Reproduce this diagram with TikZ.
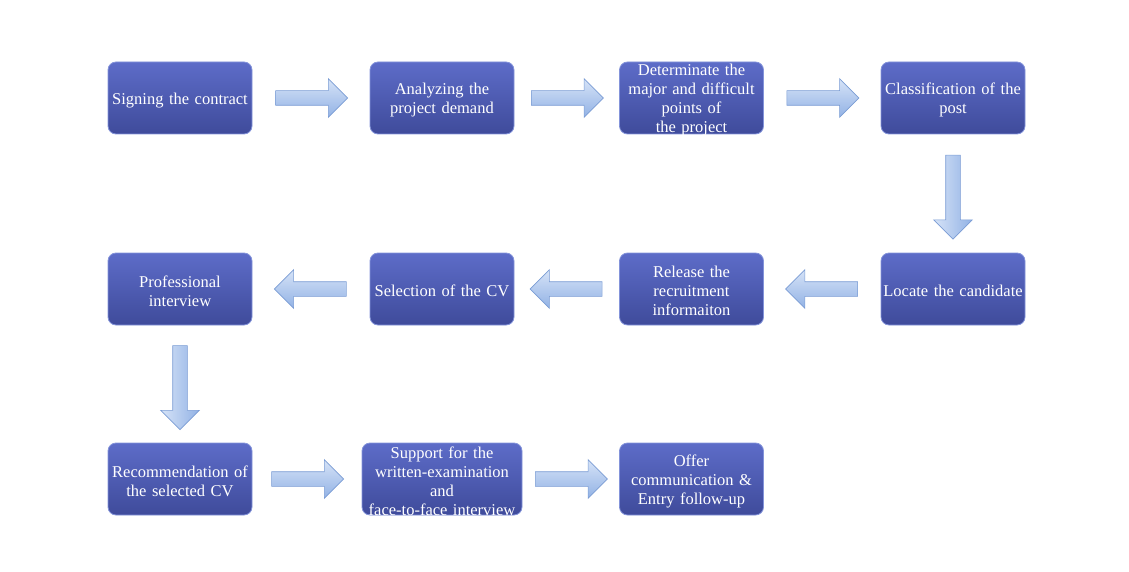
\documentclass[tikz,border=0pt]{standalone}
\usepackage{fontspec}
\setmainfont{Liberation Serif}
\usetikzlibrary{calc,shapes.arrows}
\definecolor{boxtop}{HTML}{5D6CC8}
\definecolor{boxbot}{HTML}{3F4B9B}
\definecolor{boxrule}{HTML}{8494DA}
\definecolor{arrtop}{HTML}{D6E3F7}
\definecolor{arrbot}{HTML}{92B2E5}
\definecolor{arrrule}{HTML}{7A9CD4}
\tikzset{
  stage/.style={draw=boxrule,line width=0.8pt,rounded corners=8pt,
    top color=boxtop,bottom color=boxbot,text=white,inner xsep=0pt,inner ysep=-3pt,
    minimum width=144pt,minimum height=72pt,text width=144pt,align=center,
    font=\fontsize{16.5}{19}\selectfont,execute at begin node={\rule{0pt}{16pt}}},
  stagew/.style={stage,minimum width=160pt,text width=160pt},
  blk/.style={single arrow,draw=arrrule,line width=0.6pt,inner sep=7pt,
    minimum height=72pt,single arrow head extend=12pt,single arrow head indent=0pt},
  blkr/.style={blk,xshift=-3pt,top color=arrtop,bottom color=arrbot},
  blkl/.style={blk,xshift=3pt,shape border rotate=180,top color=arrtop,bottom color=arrbot},
  blkd/.style={blk,shape border rotate=270,minimum height=84pt,left color=arrtop,right color=arrbot},
}
\begin{document}
\begin{tikzpicture}[x=1pt,y=-1pt]
  \useasboundingbox (0,0) rectangle (1129,572);
  % first row, left to right
  \node[stage] (sign)     at (180,98)   {Signing the contract};
  \node[stage] (analyze)  at (442,98)   {Analyzing the\\project demand};
  \node[stage] (points)   at (691.5,98) {Determinate the\\major and difficult\\points of\\the project};
  \node[stage] (classify) at (953,98)   {Classification of the\\post};
  % second row, right to left
  \node[stage] (locate)    at (953,289)   {Locate the candidate};
  \node[stage] (release)   at (691.5,289) {Release the\\recruitment\\informaiton};
  \node[stage] (select)    at (442,289)   {Selection of the CV};
  \node[stage] (interview) at (180,289)   {Professional\\interview};
  % third row
  \node[stage]  (recommend) at (180,479)   {Recommendation of\\the selected CV};
  \node[stagew] (support)   at (442,479)   {Support for the\\written-examination\\and\\face-to-face interview};
  \node[stage]  (offer)     at (691.5,479) {Offer\\communication \&\\Entry follow-up};
  % block arrows between the stages
  \node[blkr] (a1)  at ($(sign.east)!0.5!(analyze.west)$) {};
  \node[blkr] (a2)  at ($(analyze.east)!0.5!(points.west)$) {};
  \node[blkr] (a3)  at ($(points.east)!0.5!(classify.west)$) {};
  \node[blkd] (a4)  at ($(classify.south)!0.5!(locate.north)$) {};
  \node[blkl] (a5)  at ($(locate.west)!0.5!(release.east)$) {};
  \node[blkl] (a6)  at ($(release.west)!0.5!(select.east)$) {};
  \node[blkl] (a7)  at ($(select.west)!0.5!(interview.east)$) {};
  \node[blkd] (a8)  at ($(interview.south)!0.5!(recommend.north)$) {};
  \node[blkr] (a9)  at ($(recommend.east)!0.5!(support.west)$) {};
  \node[blkr] (a10) at ($(support.east)!0.5!(offer.west)$) {};
\end{tikzpicture}
\end{document}
